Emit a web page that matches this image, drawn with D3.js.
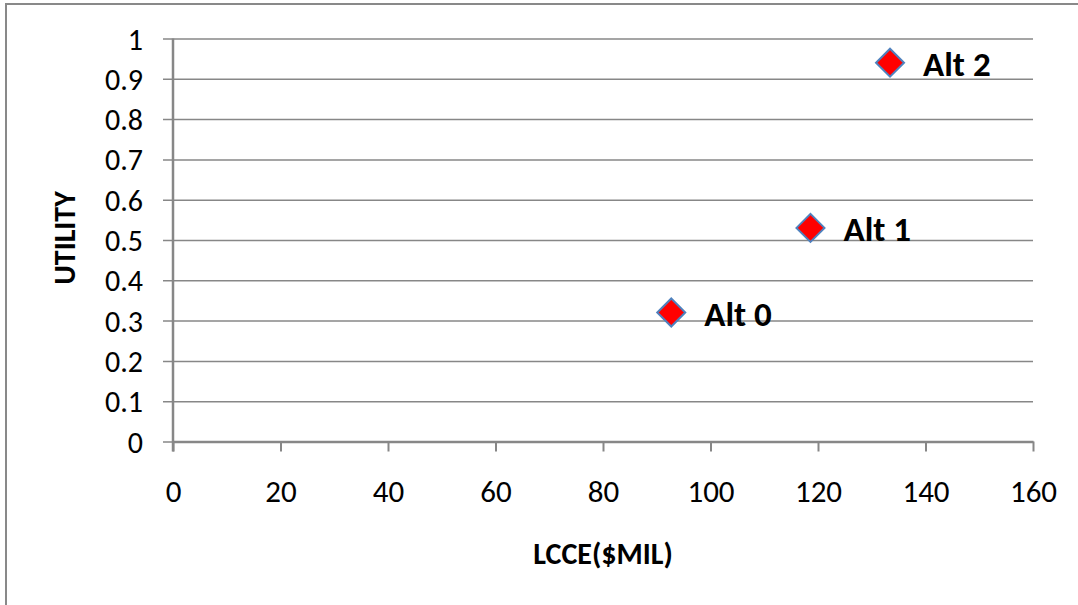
<!DOCTYPE html>
<html>
<head>
<meta charset="utf-8">
<script src="https://cdnjs.cloudflare.com/ajax/libs/d3/7.8.5/d3.min.js"></script>
<style>
	body { margin:0; background:#fff; }
	svg { display:block; }
	text { font-family: Carlito, Calibri, Lato, sans-serif; fill:#000; }
</style>
</head>
<body>
<svg id="chart"></svg>
<script>
var names = ["Alt 0", "Alt 1", "Alt 2"];
var lcce = [92.7, 118.6, 133.4];
var utility = [0.32, 0.53, 0.94];
var xTicks = [0, 20, 40, 60, 80, 100, 120, 140, 160];
var yTicks = [0, 0.1, 0.2, 0.3, 0.4, 0.5, 0.6, 0.7, 0.8, 0.9, 1];

var Chart = (function(){
	var width = 1078, height = 605, svg;
	var left = 173, right = 1033, top = 38.5, bottom = 441.5;

	var setup = function(){
		svg = d3.select("#chart")
				.attr("width", width)
				.attr("height", height);
		// outer frame, only top and left sides fall inside the picture
		svg.append("rect")
			.attr("x", 6).attr("y", 4)
			.attr("width", width + 20).attr("height", height + 20)
			.attr("fill", "none")
			.attr("stroke", "#898989")
			.attr("stroke-width", 2);
	}

	var render = function(){
		var x = d3.scaleLinear().domain([0,160]).range([left,right]);
		var y = d3.scaleLinear().domain([0,1]).range([bottom,top]);

		// gridlines + y ticks
		var yAxis = d3.axisLeft(y)
					.tickValues(yTicks)
					.tickSize(-(right-left))
					.tickSizeOuter(0)
					.tickFormat(function(d){ return d3.format("")(+d.toFixed(1)); });
		var gy = svg.append("g")
			.attr("transform","translate(" + left + ",0)")
			.call(yAxis);
		gy.select(".domain").remove();
		gy.selectAll(".tick line")
			.attr("x1", -10)
			.attr("stroke","#878787")
			.attr("stroke-width",1.5);
		gy.selectAll(".tick text")
			.attr("x", -30)
			.attr("dy","0.35em")
			.style("font-size","30px");

		// x axis
		var xAxis = d3.axisBottom(x)
					.tickValues(xTicks)
					.tickSize(10)
					.tickSizeOuter(0);
		var gx = svg.append("g")
			.attr("transform","translate(0," + bottom + ")")
			.call(xAxis);
		gx.select(".domain").attr("stroke","#878787").attr("stroke-width",2.5);
		gx.selectAll(".tick line").attr("stroke","#878787").attr("stroke-width",2);
		gx.selectAll(".tick text")
			.attr("y", 50)
			.attr("dy","0.35em")
			.style("font-size","31px");

		// y axis line
		svg.append("line")
			.attr("x1", left).attr("x2", left)
			.attr("y1", top).attr("y2", bottom + 10)
			.attr("stroke","#878787")
			.attr("stroke-width",2.5);

		// axis titles
		svg.append("text")
			.attr("x", 603).attr("y", 553)
			.attr("text-anchor","middle")
			.attr("dy","0.35em")
			.style("font-size","30px")
			.style("font-weight","bold")
			.text("LCCE($MIL)");
		svg.append("text")
			.attr("transform","translate(64,238) rotate(-90)")
			.attr("text-anchor","middle")
			.attr("dy","0.35em")
			.style("font-size","30px")
			.style("font-weight","bold")
			.text("UTILITY");

		var data = names.map(function(n,i){
			return {"label": n, "x": lcce[i], "y": utility[i]};
		});

		var pts = svg.append("g").selectAll("g")
			.data(data)
			.enter()
			.append("g")
			.attr("transform", function(d){ return "translate(" + x(d.x) + "," + y(d.y) + ")"; });
		pts.append("path")
			.attr("d", d3.symbol().type(d3.symbolDiamond2).size(500))
			.attr("fill","#ff0000")
			.attr("stroke","#4f81bd")
			.attr("stroke-width",2);
		pts.append("text")
			.attr("x", 33)
			.attr("y", 13)
			.style("font-size","35px")
			.style("font-weight","bold")
			.text(function(d){ return d.label; });
	}

	return {
		setup : setup,
		render : render
	}
})();

Chart.setup();
Chart.render();
</script>
</body>
</html>
